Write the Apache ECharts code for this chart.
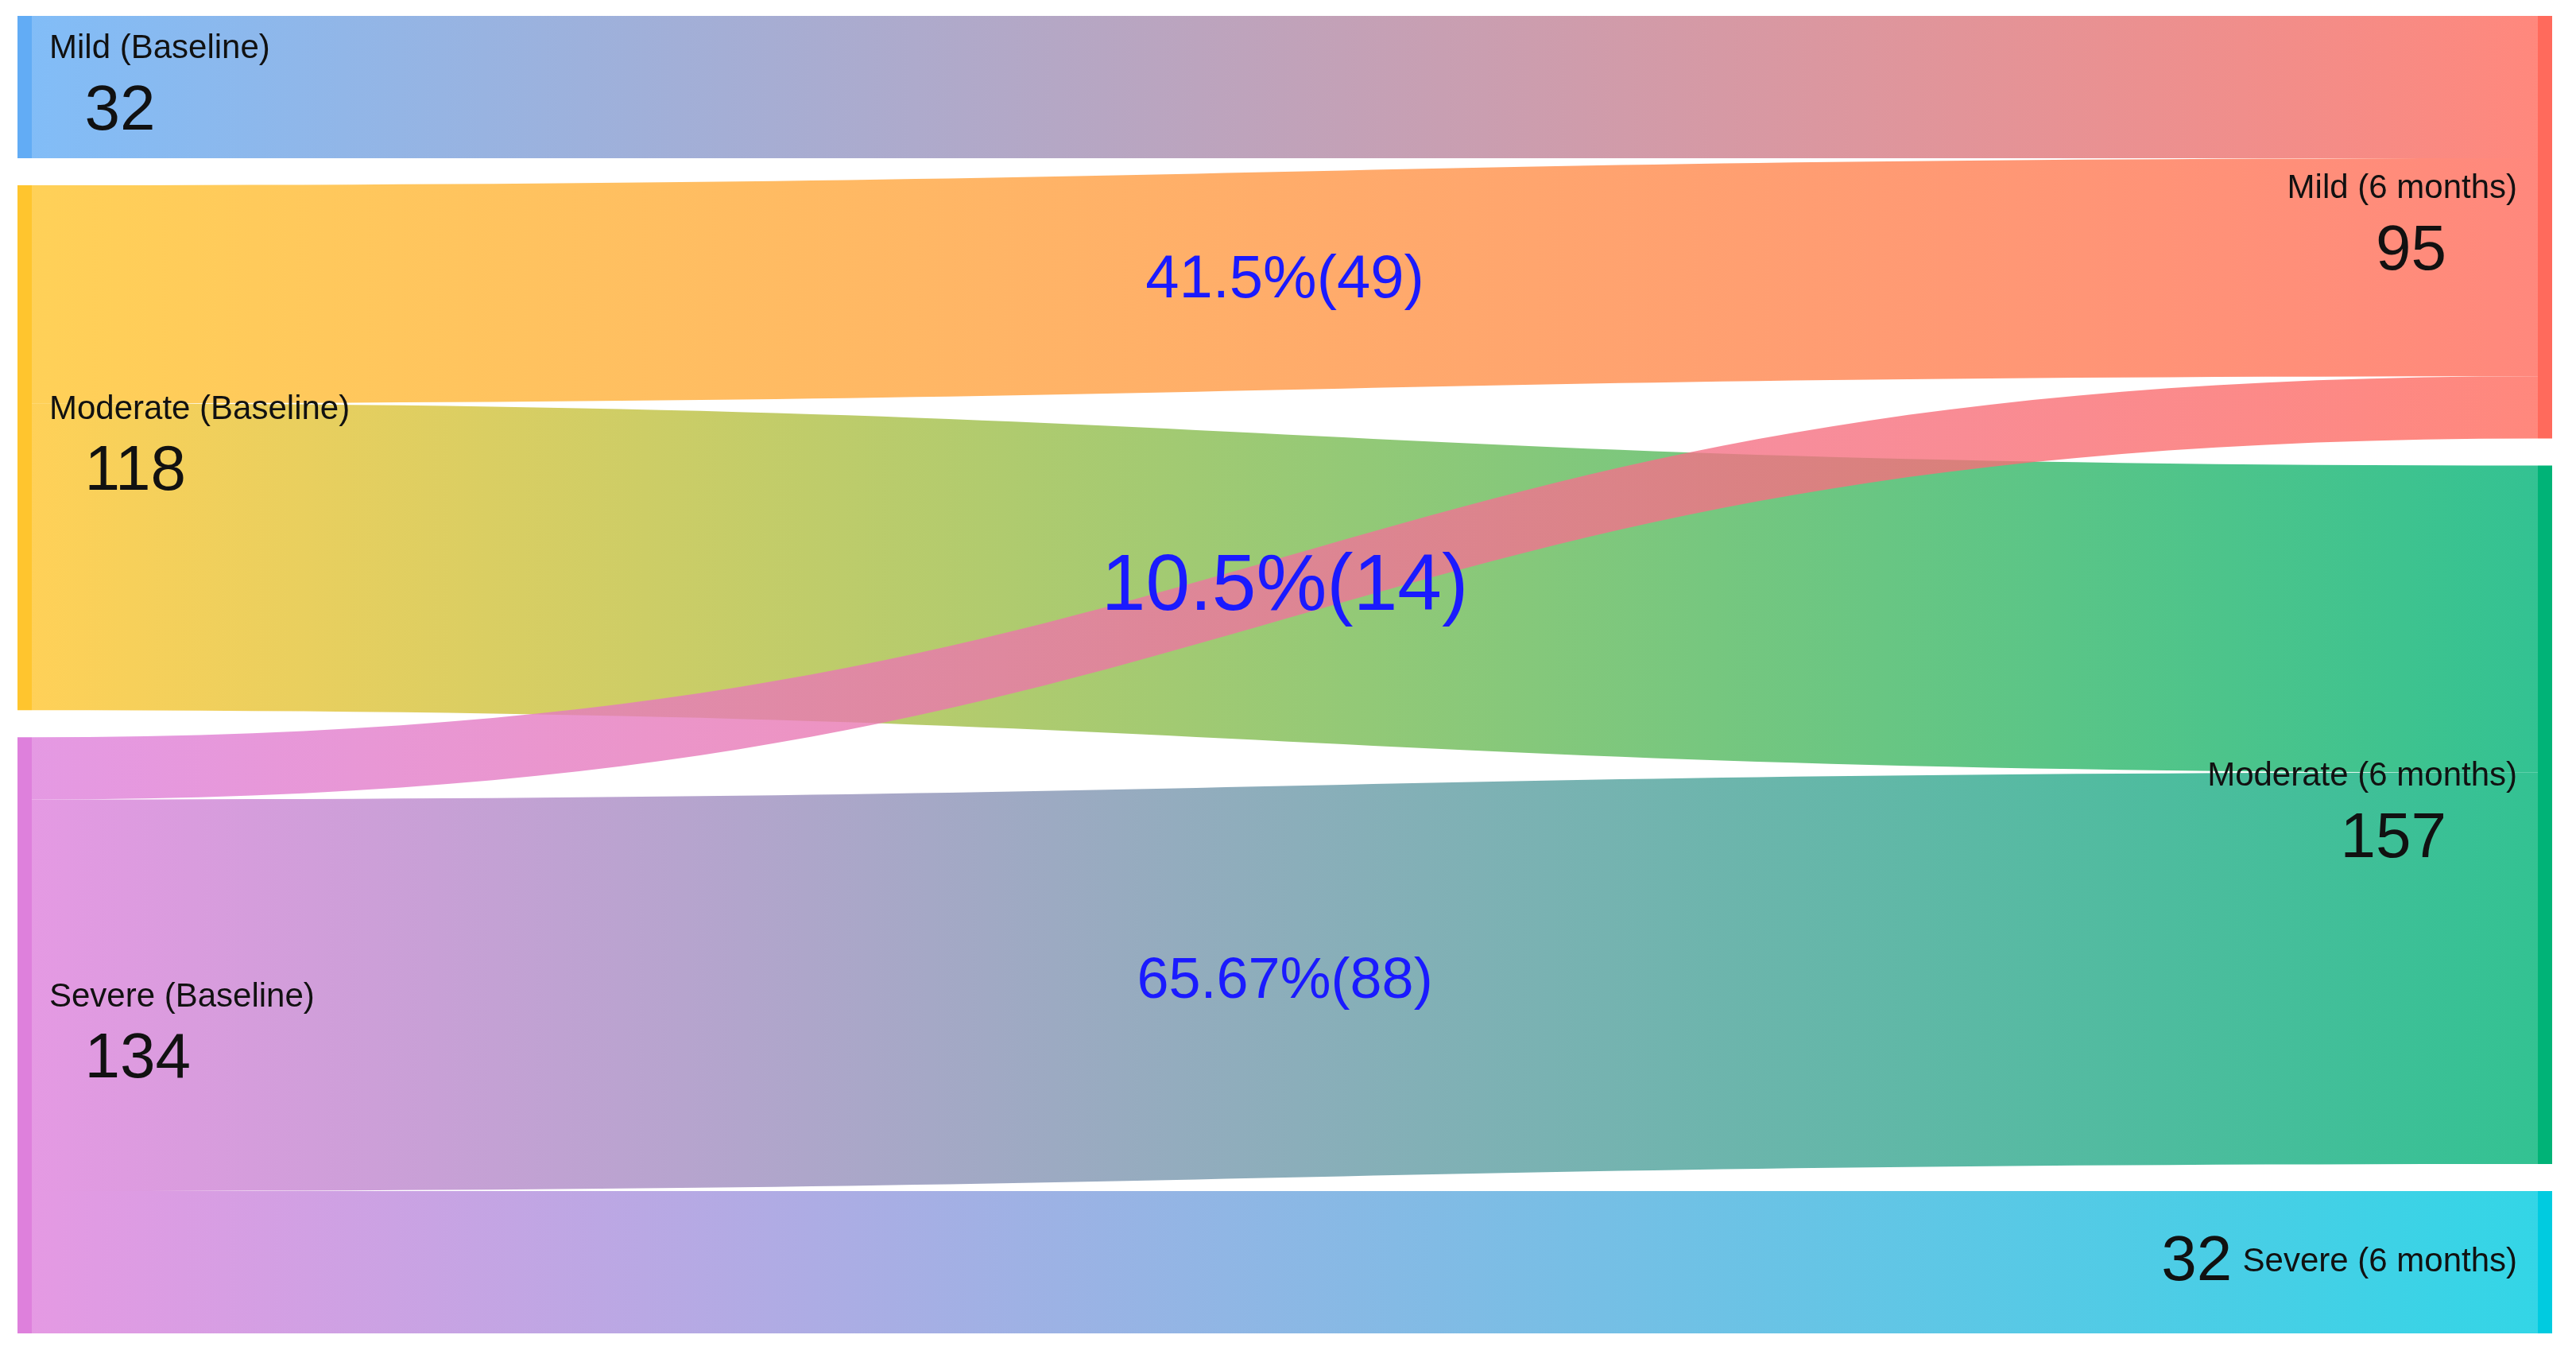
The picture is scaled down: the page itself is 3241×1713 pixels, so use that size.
<!DOCTYPE html>
<html>
<head>
<meta charset="utf-8">
<script src="https://cdn.jsdelivr.net/npm/echarts@6/dist/echarts.min.js"></script>
<style>html,body{margin:0;padding:0;background:#fff}#main{width:3241px;height:1713px}</style>
</head>
<body>
<div id="main"></div>
<script>
var nodeNames = ['Mild (Baseline)', 'Moderate (Baseline)', 'Severe (Baseline)',
                 'Mild (6 months)', 'Moderate (6 months)', 'Severe (6 months)'];
var nodeColors = ['#62acf5', '#ffc52e', '#de80dc', '#ff6a5c', '#00b377', '#00cbe0'];
var linkSources = ['Mild (Baseline)', 'Moderate (Baseline)', 'Moderate (Baseline)',
                   'Severe (Baseline)', 'Severe (Baseline)', 'Severe (Baseline)'];
var linkTargets = ['Mild (6 months)', 'Mild (6 months)', 'Moderate (6 months)',
                   'Mild (6 months)', 'Moderate (6 months)', 'Severe (6 months)'];
var linkValues = [32, 49, 69, 14, 88, 32];
var linkLabels = ['', '41.5%(49)', '', '10.5%(14)', '65.67%(88)', ''];
var linkLabelSizes = [0, 76, 0, 100, 72, 0];

var nodes = nodeNames.map(function (n, i) {
    var left = i < 3;
    var item = {
        name: n,
        itemStyle: { color: nodeColors[i] },
        label: {
            position: left ? 'right' : 'left',
            align: left ? 'left' : 'right',
            distance: left ? 22 : 26,
            formatter: left ? '{n|{b}}\n{v|  {c}}' : '{n|{b}}\n{v|{c}    }'
        }
    };
    if (i === 5) {
        item.label.formatter = '{v|{c}}    {n|{b}}';
    }
    return item;
});

var links = linkValues.map(function (v, i) {
    var l = { source: linkSources[i], target: linkTargets[i], value: v };
    if (linkLabels[i]) {
        l.edgeLabel = {
            show: true,
            formatter: linkLabels[i],
            color: '#1a1aff',
            fontSize: linkLabelSizes[i],
            fontFamily: 'Liberation Sans'
        };
    }
    return l;
});

var myChart = echarts.init(document.getElementById('main'));
myChart.setOption({
    animation: false,
    series: [{
        type: 'sankey',
        left: 22, right: 30, top: 20, bottom: 36,
        nodeWidth: 18,
        nodeGap: 34,
        layoutIterations: 0,
        draggable: false,
        data: nodes,
        links: links,
        lineStyle: { color: 'gradient', opacity: 0.8, curveness: 0.5 },
        label: {
            show: true,
            color: '#111',
            fontFamily: 'Liberation Sans',
            rich: {
                n: { fontSize: 42, fontFamily: 'Liberation Sans', color: '#111', lineHeight: 62 },
                v: { fontSize: 80, fontFamily: 'Liberation Sans', color: '#111', lineHeight: 96 }
            }
        },
        edgeLabel: { show: false }
    }]
});
</script>
</body>
</html>
